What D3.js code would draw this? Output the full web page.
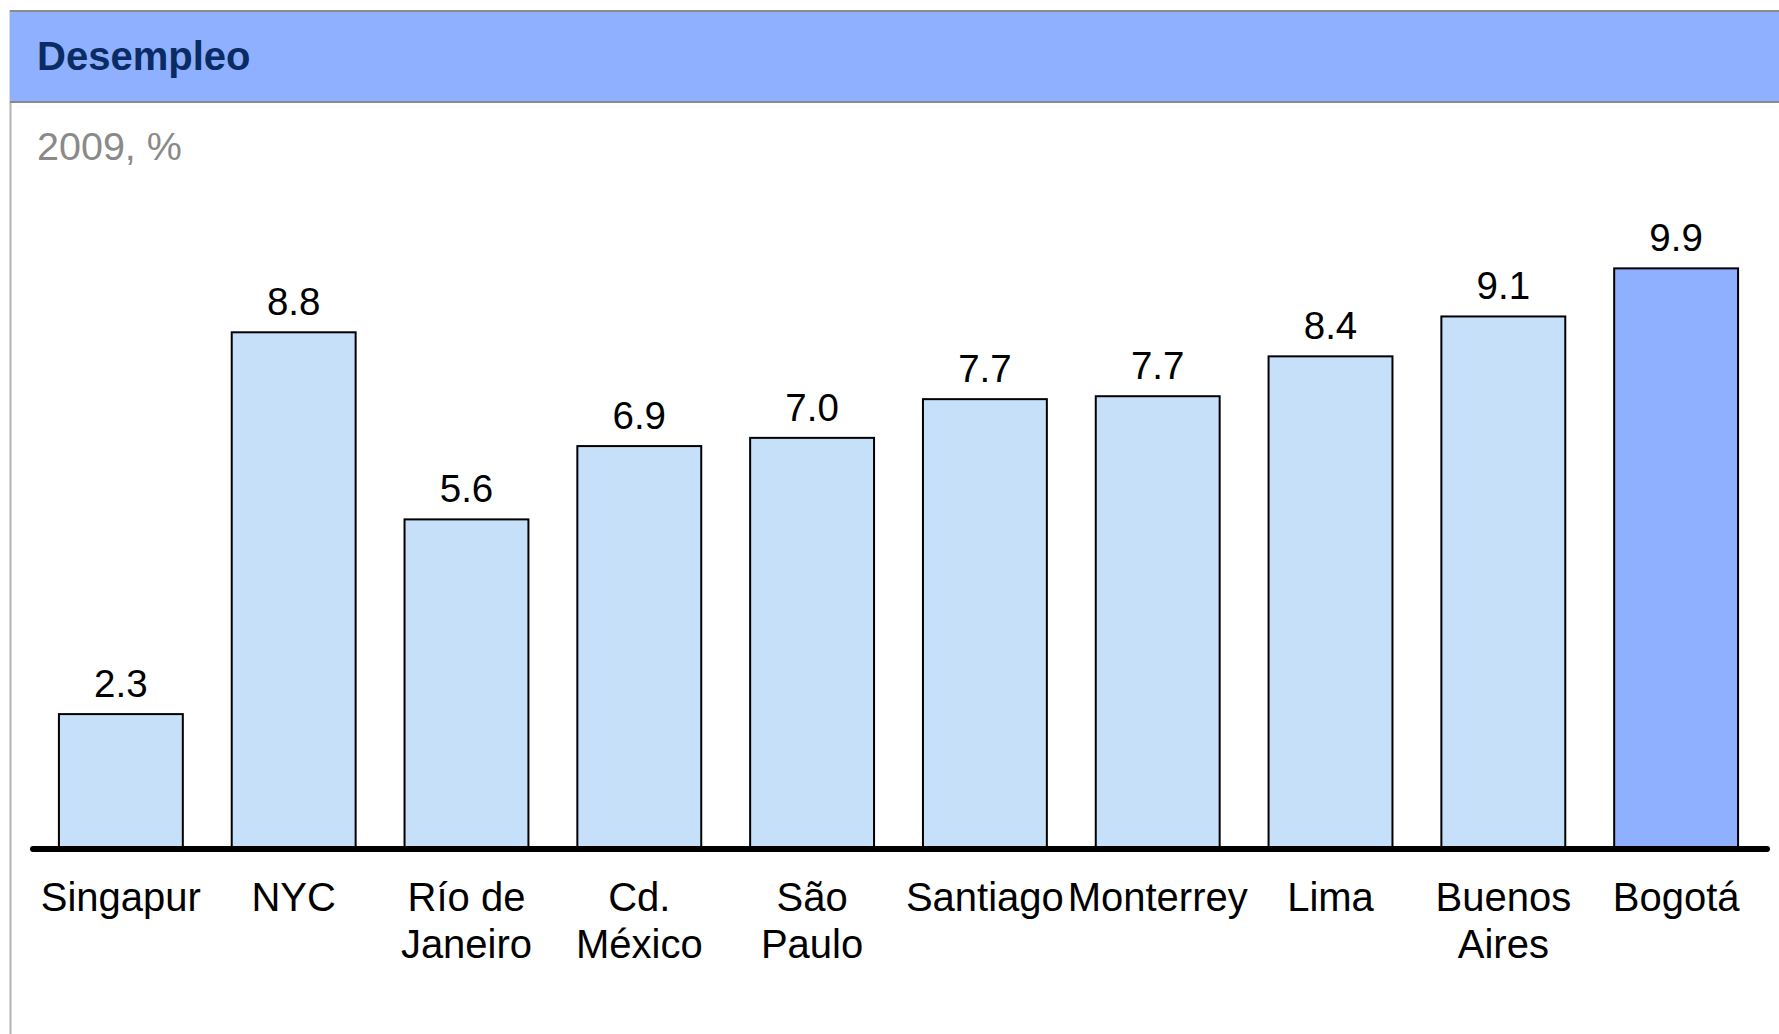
<!DOCTYPE html>
<html>
<head>
<meta charset="utf-8">
<script src="https://cdn.jsdelivr.net/npm/d3@7"></script>
<style>
  html, body { margin: 0; padding: 0; background: #fff; }
  svg { display: block; font-family: "Liberation Sans", Arial, sans-serif; }
</style>
</head>
<body>
<svg id="chart" width="1779" height="1034"></svg>
<script>
const categories = ["Singapur", "NYC", "Río de Janeiro", "Cd. México", "São Paulo", "Santiago", "Monterrey", "Lima", "Buenos Aires", "Bogotá"];
const categoryLines = [["Singapur"], ["NYC"], ["Río de", "Janeiro"], ["Cd.", "México"], ["São", "Paulo"], ["Santiago"], ["Monterrey"], ["Lima"], ["Buenos", "Aires"], ["Bogotá"]];
const values = [2.3, 8.81, 5.62, 6.87, 7.01, 7.67, 7.72, 8.4, 9.08, 9.9];
const valueLabels = ["2.3", "8.8", "5.6", "6.9", "7.0", "7.7", "7.7", "8.4", "9.1", "9.9"];
const highlight = ["Bogotá"];
const title = "Desempleo";
const subtitle = "2009, %";

const W = 1779, H = 1034;
const svg = d3.select("#chart");

// Frame
svg.append("line").attr("x1", 10.5).attr("x2", 10.5).attr("y1", 10).attr("y2", H)
  .attr("stroke", "#b4b4b4").attr("stroke-width", 2);
svg.append("rect").attr("x", 10).attr("y", 10).attr("width", W - 10).attr("height", 92)
  .attr("fill", "#8fb0ff");
svg.append("line").attr("x1", 10).attr("x2", W).attr("y1", 11).attr("y2", 11)
  .attr("stroke", "#8a8a8a").attr("stroke-width", 2);
svg.append("line").attr("x1", 10).attr("x2", W).attr("y1", 102).attr("y2", 102)
  .attr("stroke", "#8a8a8a").attr("stroke-width", 2);

svg.append("text").attr("x", 37).attr("y", 70).text(title)
  .attr("font-size", 40).attr("font-weight", "bold").attr("fill", "#0a2b63");
svg.append("text").attr("x", 37).attr("y", 160).text(subtitle)
  .attr("font-size", 39.5).attr("fill", "#8a8a8a");

// Scales
const x = d3.scaleBand().domain(categories).range([33, 1764])
  .paddingInner(0.283).paddingOuter(0.15);
const y = d3.scaleLinear().domain([0, 10]).range([849, 262.5]);

const data = categories.map((c, i) => ({ c, v: values[i], label: valueLabels[i], lines: categoryLines[i] }));

svg.append("g").selectAll("rect").data(data).join("rect")
  .attr("x", d => x(d.c))
  .attr("y", d => y(d.v))
  .attr("width", x.bandwidth())
  .attr("height", d => y(0) - y(d.v))
  .attr("fill", d => highlight.includes(d.c) ? "#8fb0ff" : "#c6e0fa")
  .attr("stroke", "#000").attr("stroke-width", 2);

svg.append("g").selectAll("text").data(data).join("text")
  .attr("x", d => x(d.c) + x.bandwidth() / 2)
  .attr("y", d => y(d.v) - 17)
  .attr("text-anchor", "middle")
  .attr("font-size", 38.5)
  .attr("fill", "#000")
  .text(d => d.label);

// Axis baseline
svg.append("line").attr("x1", 33).attr("x2", 1767).attr("y1", y(0)).attr("y2", y(0))
  .attr("stroke", "#000").attr("stroke-width", 6).attr("stroke-linecap", "round");

// Category labels
const cat = svg.append("g").selectAll("text").data(data).join("text")
  .attr("text-anchor", "middle")
  .attr("font-size", 40)
  .attr("fill", "#000");
cat.each(function(d) {
  const t = d3.select(this);
  d.lines.forEach((l, i) => {
    t.append("tspan").attr("x", x(d.c) + x.bandwidth() / 2).attr("y", 911 + i * 47).text(l);
  });
});
</script>
</body>
</html>
